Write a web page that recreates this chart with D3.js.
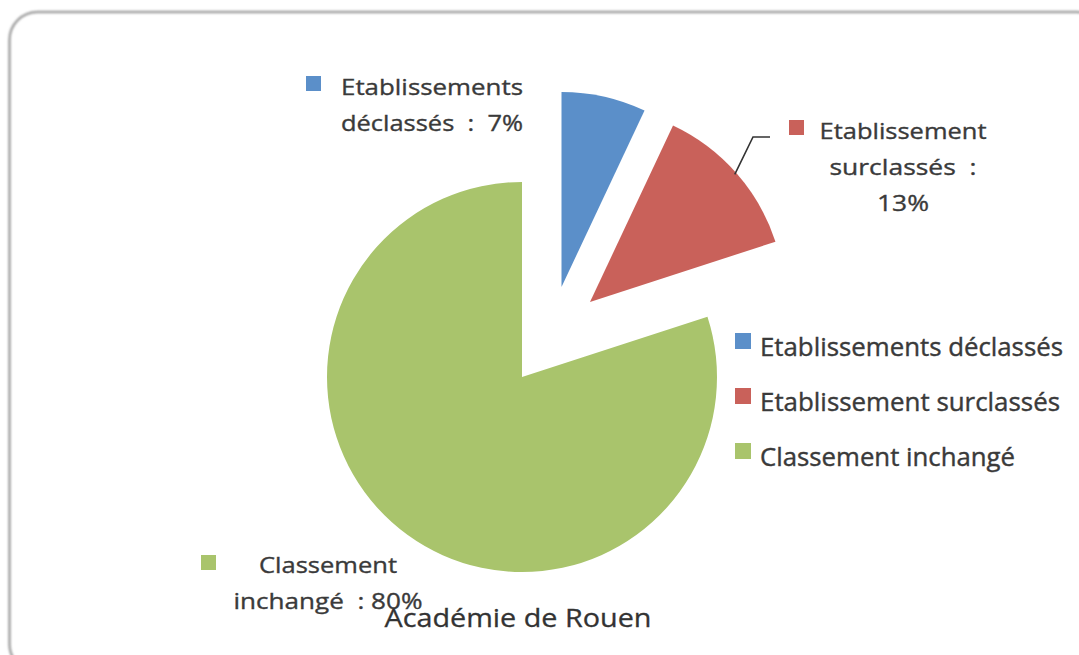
<!DOCTYPE html>
<html>
<head>
<meta charset="utf-8">
<script src="https://cdn.jsdelivr.net/npm/d3@7"></script>
<style>
  html, body { margin: 0; padding: 0; background: #fff; }
  svg text { font-family: 'Open Sans', 'DejaVu Sans', sans-serif; white-space: pre; }
</style>
</head>
<body>
<svg id="chart" width="1079" height="655"></svg>
<script>
// data
const categories = ['Etablissements déclassés', 'Etablissement surclassés', 'Classement inchangé']
const values = [7, 13, 80]
const labelLines = [
    ['Etablissements', 'déclassés  :  {v}%'],
    ['Etablissement', 'surclassés  :', '{v}%'],
    ['Classement', 'inchangé  : {v}%']
]
const colors = ['#5b8fc9', '#c9615a', '#a9c46c']
const title = 'Académie de Rouen'

// layout
const center = [522, 377]
const radius = 195
const explode = [[39.5, -90], [68, -75], [0, 0]]
const labelBoxes = [
    { mx: 306, my: 76, cx: 432, y0: 95, widths: [182, 182] },
    { mx: 789, my: 120, cx: 903, y0: 139, widths: [167, 147, 52] },
    { mx: 201, my: 555, cx: 328, y0: 573, widths: [138, 189] }
]
const legendWidths = [303, 300, 255]
const textColor = '#3a3a3a'

const svg = d3.select('#chart')

// frame
const defs = svg.append('defs')
const shadow = defs.append('filter').attr('id', 'shadow')
    .attr('x', '-5%').attr('y', '-5%').attr('width', '110%').attr('height', '110%')
shadow.append('feGaussianBlur').attr('stdDeviation', 1.2)

svg.append('rect')
    .attr('x', 9.5).attr('y', 12)
    .attr('width', 1095).attr('height', 660)
    .attr('rx', 28)
    .attr('fill', 'none')
    .attr('stroke', '#a0a0a0')
    .attr('stroke-width', 2.5)
    .attr('filter', 'url(#shadow)')

// pie
const pie = d3.pie().sort(null).value(d => d)
const arcs = pie(values)
const arc = d3.arc().innerRadius(0).outerRadius(radius)

const gPie = svg.append('g').attr('class', 'g-pie')

gPie.selectAll('path')
    .data(arcs)
    .join('path')
    .attr('transform', (d, i) => `translate(${center[0] + explode[i][0]},${center[1] + explode[i][1]})`)
    .attr('d', arc)
    .attr('fill', (d, i) => colors[i])

// leader line for the red slice
const red = arcs[1]
const mid = (red.startAngle + red.endAngle) / 2
const sx = center[0] + explode[1][0] + Math.sin(mid) * (radius - 2)
const sy = center[1] + explode[1][1] - Math.cos(mid) * (radius - 2)
svg.append('path')
    .attr('d', `M${sx},${sy}L753,137L770,137`)
    .attr('fill', 'none')
    .attr('stroke', '#333')
    .attr('stroke-width', 1.6)

// data labels
const gLabels = svg.append('g').attr('class', 'g-labels')
labelLines.forEach((lines, i) => {
    const box = labelBoxes[i]
    gLabels.append('rect')
        .attr('x', box.mx).attr('y', box.my)
        .attr('width', 15).attr('height', 15)
        .attr('fill', colors[i])
    lines.forEach((line, j) => {
        gLabels.append('text')
            .attr('x', box.cx)
            .attr('y', box.y0 + j * 36)
            .attr('text-anchor', 'middle')
            .attr('font-size', 22)
            .attr('fill', textColor)
            .attr('stroke', textColor)
            .attr('stroke-width', 0.35)
            .attr('textLength', box.widths[j])
            .attr('lengthAdjust', 'spacingAndGlyphs')
            .text(line.replace('{v}', values[i]))
    })
})

// legend
const gLegend = svg.append('g').attr('class', 'g-legend')
categories.forEach((c, i) => {
    const y = 341 + i * 55
    gLegend.append('rect')
        .attr('x', 735).attr('y', y - 8)
        .attr('width', 16).attr('height', 16)
        .attr('fill', colors[i])
    gLegend.append('text')
        .attr('x', 760).attr('y', y + 15)
        .attr('font-size', 25)
        .attr('fill', textColor)
        .attr('stroke', textColor)
        .attr('stroke-width', 0.4)
        .attr('textLength', legendWidths[i])
        .attr('lengthAdjust', 'spacingAndGlyphs')
        .text(c)
})

// title
svg.append('text')
    .attr('x', 518).attr('y', 627)
    .attr('text-anchor', 'middle')
    .attr('font-size', 26)
    .attr('fill', '#333')
    .attr('stroke', '#333')
    .attr('stroke-width', 0.3)
    .attr('textLength', 267)
    .attr('lengthAdjust', 'spacingAndGlyphs')
    .text(title)
</script>
</body>
</html>
